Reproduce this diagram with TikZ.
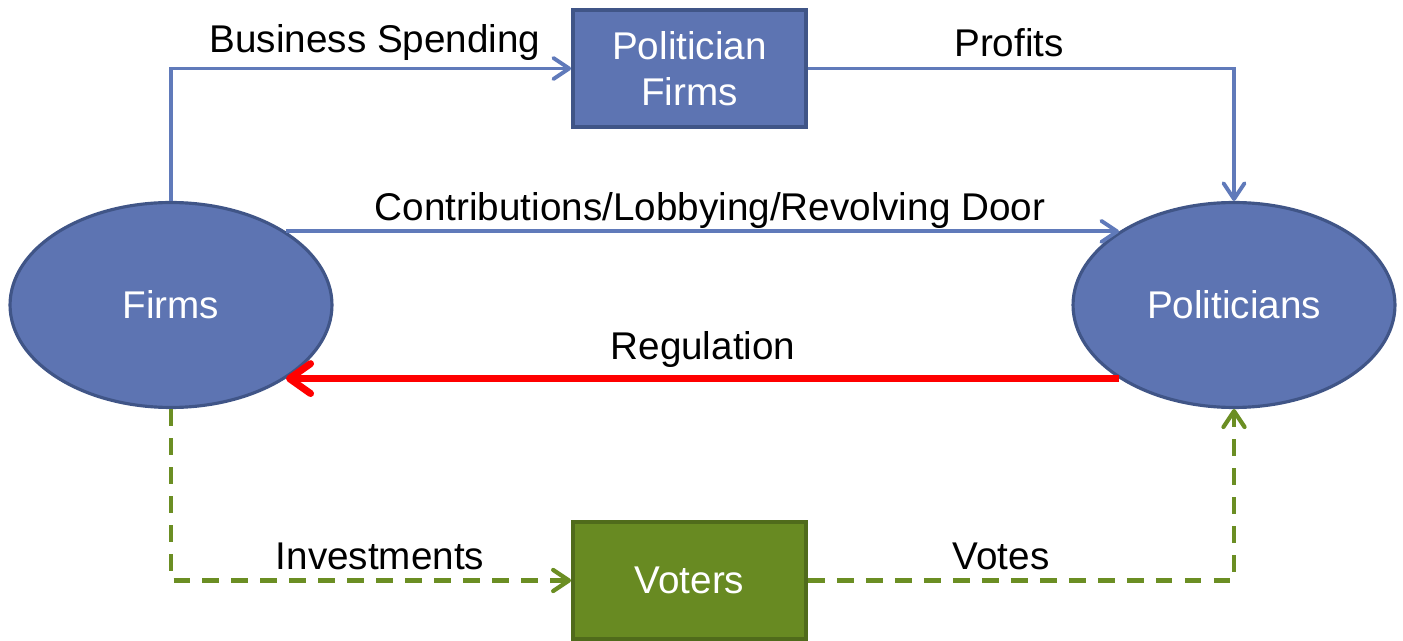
\documentclass[tikz,border=0pt]{standalone}
\usepackage{fontspec}
\setmainfont{Liberation Sans}
\usetikzlibrary{shapes.geometric,arrows.meta}
\definecolor{nodeblue}{RGB}{93,116,178}
\definecolor{edgeblue}{RGB}{64,85,135}
\definecolor{lineblue}{RGB}{96,122,186}
\definecolor{nodegreen}{RGB}{104,138,34}
\definecolor{edgegreen}{RGB}{80,107,27}
\definecolor{linegreen}{RGB}{107,142,35}
\tikzset{
  bigfont/.style={font=\fontsize{22}{26}\selectfont},
  oval/.style={ellipse, draw=edgeblue, fill=nodeblue, line width=1.8pt,
    minimum width=6.44cm, minimum height=4.1cm, inner sep=0pt,
    text=white, bigfont},
  bluebox/.style={rectangle, draw=edgeblue, fill=nodeblue, line width=2.2pt,
    minimum width=4.66cm, minimum height=2.34cm, inner sep=0pt, align=center,
    text=white, bigfont},
  greenbox/.style={bluebox, draw=edgegreen, fill=nodegreen},
  lbl/.style={bigfont, text=black, inner sep=0pt},
  bluearrow/.style={draw=lineblue, line width=2.2pt,
    -{Straight Barb[length=9pt,width=12pt,line width=2.2pt,round]}},
  redarrow/.style={draw=red, line width=4pt,
    -{Straight Barb[length=12pt,width=17pt,line width=4pt,round]}},
  greenarrow/.style={draw=linegreen, line width=2.4pt, dash pattern=on 9.5pt off 7pt,
    -{Straight Barb[length=9pt,width=12pt,line width=2.4pt,round]}},
}
\begin{document}
\begin{tikzpicture}[x=0.02cm,y=-0.02cm]
\useasboundingbox (0,0) rectangle (1403,641);
% main actors
\node[oval] (firms) at (171,305) {Firms};
\node[oval] (pol) at (1234,305) {Politicians};
\node[bluebox] (pf) at (689.5,68.5) {Politician\\Firms};
\node[greenbox] (voters) at (689.5,580.5) {Voters};
% flows
\draw[bluearrow] (firms.north) |- (pf.west);
\draw[bluearrow] (pf.east) -| (pol.north);
\draw[bluearrow] (firms.north east) -- (pol.north west);
\draw[redarrow] (pol.south west) -- (firms.south east);
\draw[greenarrow] (firms.south) |- (voters.west);
\draw[greenarrow] (voters.east) -| (pol.south);
% flow labels
\node[lbl] (lbs) at (375,43) {Business Spending};
\node[lbl] (lpr) at (1009,43) {Profits};
\node[lbl] (lcl) at (710,211) {Contributions/Lobbying/Revolving Door};
\node[lbl] (lrg) at (703,350) {Regulation};
\node[lbl] (lin) at (380,556) {Investments};
\node[lbl] (lvt) at (1001,556) {Votes};
\end{tikzpicture}
\end{document}
